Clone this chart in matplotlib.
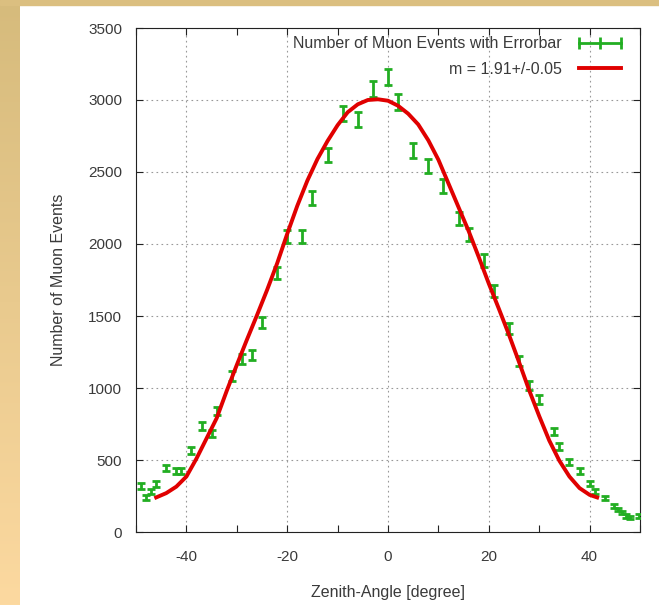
import numpy as np
import matplotlib.pyplot as plt
from matplotlib.lines import Line2D
from matplotlib.patches import Rectangle

# measured muon counts vs zenith angle
angle = [-49, -48, -47, -46, -44, -42, -41, -39, -37, -35, -34, -31, -29, -27,
         -25, -22, -20, -17, -15, -12, -9, -6, -3, 0, 2, 5, 8, 11, 14, 16, 19,
         21, 24, 26, 28, 30, 33, 34, 36, 38, 40, 41, 43, 44.9, 45.6, 46.4,
         47.2, 48.0, 49.9]
counts = [319, 241, 284, 333, 447, 426, 424, 565, 738, 685, 840, 1085, 1199,
          1229, 1454, 1801, 2051, 2051, 2320, 2618, 2907, 2866, 3074, 3157,
          2988, 2648, 2541, 2405, 2178, 2069, 1884, 1673, 1414, 1187, 1015,
          920, 697, 597, 488, 426, 338, 280, 236, 180, 157, 134, 111, 102, 111]

# fitted curve
fit_angle = [-46, -44, -42, -40, -38, -36, -34, -32, -30, -28, -26, -24, -22,
             -20, -18, -16, -14, -12, -10, -8, -6, -4, -2, 0, 2, 4, 6, 8, 10,
             12, 14, 16, 18, 20, 22, 24, 26, 28, 30, 32, 34, 36, 38, 40, 41.5]
fit_counts = [240, 270, 315, 385, 510, 650, 790, 980, 1160, 1335, 1505, 1680,
              1865, 2070, 2265, 2440, 2590, 2715, 2825, 2915, 2970, 3000, 3005,
              2995, 2960, 2905, 2830, 2720, 2585, 2420, 2255, 2090, 1910, 1725,
              1550, 1370, 1180, 985, 805, 635, 495, 385, 305, 258, 240]

GREEN = '#22ae22'
RED = '#e00000'
TXT = '#3a3a3a'

plt.rcParams['font.family'] = ['Liberation Sans', 'DejaVu Sans']
plt.rcParams['axes.unicode_minus'] = False

fig = plt.figure(figsize=(6.59, 6.05), dpi=100)
fig.patch.set_facecolor('white')

# tan frame strips of the slide
grad = np.linspace(0, 1, 256).reshape(-1, 1)
bg = fig.add_axes([0, 0, 20 / 659, 1])
bg.imshow(grad, aspect='auto', cmap=plt.matplotlib.colors.LinearSegmentedColormap.from_list(
    'tan', ['#d6bb7c', '#fcd9a0']), extent=[0, 1, 0, 1])
bg.axis('off')
fig.patches.append(Rectangle((0, 1 - 5 / 605), 1, 5 / 605, transform=fig.transFigure,
                             color='#dbbf80', zorder=0))

ax = fig.add_axes([136 / 659, 73 / 605, 504 / 659, 504 / 605])

ax.errorbar(angle, counts, yerr=np.sqrt(counts), fmt='none', ecolor=GREEN,
            elinewidth=2, capsize=3, capthick=2, zorder=3)
ax.plot(fit_angle, fit_counts, color=RED, lw=2.8, zorder=4)

ax.set_xlim(-50, 50)
ax.set_ylim(0, 3500)
ax.set_xticks(range(-40, 41, 20))
ax.set_xticks(range(-50, 51, 10), minor=True)
ax.set_yticks(range(0, 3501, 500))
ax.tick_params(which='both', direction='in', top=True, right=True, length=5,
               width=0.8, colors='#222222', labelcolor=TXT, labelsize=11)
ax.tick_params(axis='y', pad=10)
ax.tick_params(axis='x', pad=13)
ax.grid(True, which='major', linestyle=(0, (1.5, 3)), color='#999999', lw=0.8)
for s in ax.spines.values():
    s.set_linewidth(0.8)
    s.set_color('#222222')

ax.set_xlabel('Zenith-Angle [degree]', fontsize=11.5, color=TXT, labelpad=15)
ax.set_ylabel('Number of Muon Events', fontsize=11.5, color=TXT, labelpad=16)

handles = [Line2D([], [], color=GREEN, lw=2, marker='|', markersize=8, mew=2),
           Line2D([], [], color=RED, lw=2.8)]
labels = ['Number of Muon Events with Errorbar', 'm = 1.91+/-0.05']
leg = ax.legend(handles, labels, loc='upper right', bbox_to_anchor=(1.0, 1.0 + 6 / 504),
                frameon=False, markerfirst=False, numpoints=3, fontsize=11.5,
                handlelength=3.2, borderaxespad=0.5, labelspacing=0.65)
for t in leg.get_texts():
    t.set_color(TXT)

fig.savefig('out.png', dpi=100)
